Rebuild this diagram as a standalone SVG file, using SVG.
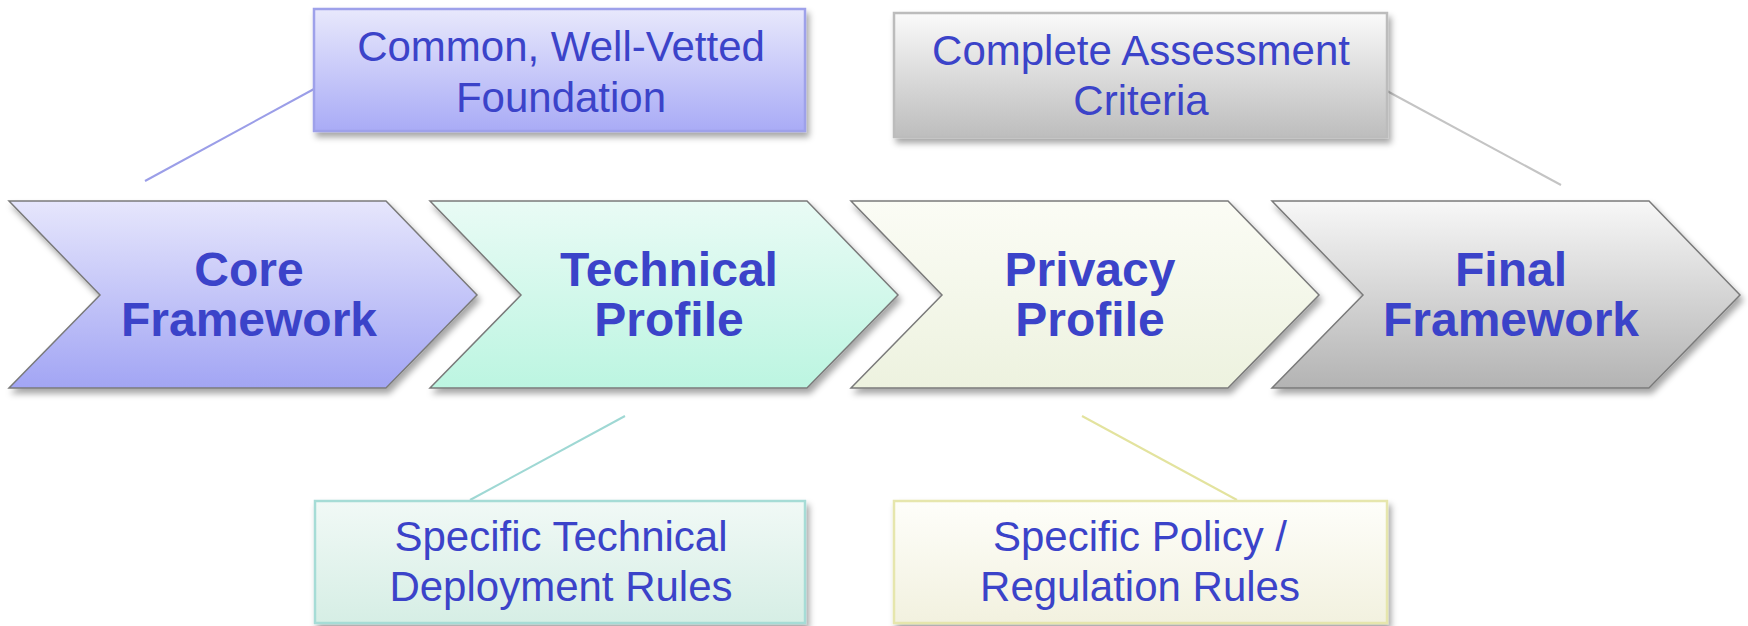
<svg xmlns="http://www.w3.org/2000/svg" width="1748" height="626" viewBox="0 0 1748 626">
<defs>
<linearGradient id="gPurple" x1="0" y1="0" x2="0" y2="1"><stop offset="0" stop-color="#e6e6fc"/><stop offset="1" stop-color="#a2a5f4"/></linearGradient>
<linearGradient id="gMint" x1="0" y1="0" x2="0" y2="1"><stop offset="0" stop-color="#e9fbf5"/><stop offset="1" stop-color="#bcf5e1"/></linearGradient>
<linearGradient id="gCream" x1="0" y1="0" x2="0" y2="1"><stop offset="0" stop-color="#fbfcf5"/><stop offset="1" stop-color="#edf2df"/></linearGradient>
<linearGradient id="gGrey" x1="0" y1="0" x2="0" y2="1"><stop offset="0" stop-color="#f7f7f7"/><stop offset="1" stop-color="#b3b3b3"/></linearGradient>
<linearGradient id="bPurple" x1="0" y1="0" x2="0" y2="1"><stop offset="0" stop-color="#e8e8fc"/><stop offset="1" stop-color="#a9abf6"/></linearGradient>
<linearGradient id="bGrey" x1="0" y1="0" x2="0" y2="1"><stop offset="0" stop-color="#fafafa"/><stop offset="1" stop-color="#bdbdbd"/></linearGradient>
<linearGradient id="bMint" x1="0" y1="0" x2="0" y2="1"><stop offset="0" stop-color="#f1f9f6"/><stop offset="1" stop-color="#d6eee5"/></linearGradient>
<linearGradient id="bCream" x1="0" y1="0" x2="0" y2="1"><stop offset="0" stop-color="#fefefa"/><stop offset="1" stop-color="#f2f1df"/></linearGradient>
<filter id="sh" x="-5%" y="-10%" width="115%" height="130%"><feDropShadow dx="3" dy="5" stdDeviation="3" flood-color="#000" flood-opacity="0.35"/></filter>
<path id="chev" d="M0,201 L377,201 L468,295 L377,388 L0,388 L91,295 Z"/>
</defs>
<style>
.chev{stroke:#7a7a7a;stroke-width:1.5;filter:url(#sh)}
.big{font-family:"Liberation Sans",Arial,sans-serif;font-weight:bold;font-size:48px;fill:#3b43c9;text-anchor:middle}
.box{stroke-width:2.5;filter:url(#sh)}
.small{font-family:"Liberation Sans",Arial,sans-serif;font-size:42px;fill:#3b43c9;text-anchor:middle}
.conn{stroke-width:2;fill:none}
</style>
<g id="connectors">
<line class="conn" x1="145" y1="181" x2="314" y2="89" stroke="#9b9ee8"/>
<line class="conn" x1="1387" y1="91" x2="1561" y2="185" stroke="#c4c4c4"/>
<line class="conn" x1="625" y1="416" x2="470" y2="500" stroke="#9fd8d4"/>
<line class="conn" x1="1082" y1="416" x2="1237" y2="500" stroke="#e3e39e"/>
</g>
<g id="core-framework">
<use href="#chev" x="9" class="chev" fill="url(#gPurple)"/>
<text class="big" x="249" y="286">Core</text>
<text class="big" x="249" y="336">Framework</text>
</g>
<g id="technical-profile">
<use href="#chev" x="430" class="chev" fill="url(#gMint)"/>
<text class="big" x="669" y="286">Technical</text>
<text class="big" x="669" y="336">Profile</text>
</g>
<g id="privacy-profile">
<use href="#chev" x="851" class="chev" fill="url(#gCream)"/>
<text class="big" x="1090" y="286">Privacy</text>
<text class="big" x="1090" y="336">Profile</text>
</g>
<g id="final-framework">
<use href="#chev" x="1272" class="chev" fill="url(#gGrey)"/>
<text class="big" x="1511" y="286">Final</text>
<text class="big" x="1511" y="336">Framework</text>
</g>
<g id="common-foundation">
<rect class="box" x="314" y="9" width="491" height="122" fill="url(#bPurple)" stroke="#9ea1ea"/>
<text class="small" x="561" y="61">Common, Well-Vetted</text>
<text class="small" x="561" y="112">Foundation</text>
</g>
<g id="assessment-criteria">
<rect class="box" x="894" y="13" width="493" height="124" fill="url(#bGrey)" stroke="#bcbcbc"/>
<text class="small" x="1141" y="65">Complete Assessment</text>
<text class="small" x="1141" y="115">Criteria</text>
</g>
<g id="technical-rules">
<rect class="box" x="315" y="501" width="490" height="122" fill="url(#bMint)" stroke="#a6dcd6"/>
<text class="small" x="561" y="551">Specific Technical</text>
<text class="small" x="561" y="601">Deployment Rules</text>
</g>
<g id="policy-rules">
<rect class="box" x="894" y="501" width="493" height="122" fill="url(#bCream)" stroke="#e6e6ad"/>
<text class="small" x="1140" y="551">Specific Policy /</text>
<text class="small" x="1140" y="601">Regulation Rules</text>
</g>
</svg>
